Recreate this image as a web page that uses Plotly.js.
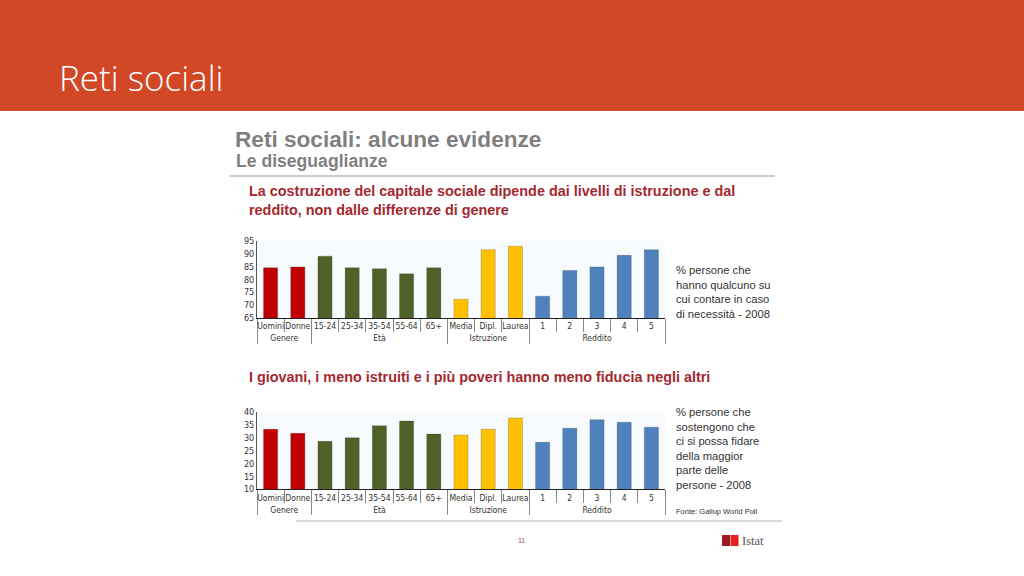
<!DOCTYPE html>
<html><head><meta charset="utf-8">
<script src="https://cdn.plot.ly/plotly-3.0.1.min.js"></script>
<style>html,body{margin:0;padding:0;background:#fff;}#c{width:1024px;height:576px;}</style>
</head><body><div id="c"></div>
<script>
const groups = ["Genere","Genere","Età","Età","Età","Età","Età","Istruzione","Istruzione","Istruzione","Reddito","Reddito","Reddito","Reddito","Reddito"];
const categories = ["Uomini","Donne","15-24","25-34","35-54","55-64","65+","Media","Dipl.","Laurea","1","2","3","4","5"];
const contareValues = [84.6,84.9,89.1,84.6,84.2,82.2,84.6,72.3,91.6,93.0,73.5,83.5,84.9,89.4,91.6];
const fiduciaValues = [33.4,31.8,28.7,30.1,34.8,36.6,31.5,31.2,33.4,37.8,28.3,33.8,37.1,36.1,34.2];
const groupColors = {"Genere":"#C00000","Età":"#4F6228","Istruzione":"#FFC000","Reddito":"#4F81BD"};
const barColors = groups.map(g => groupColors[g]);
const yTicks1 = [65,70,75,80,85,90,95];
const yTicks2 = [10,15,20,25,30,35,40];

const W = 1024, H = 576;
const px = x => x / W, py = y => 1 - y / H;

const traces = [
  {type:"bar", x:[groups, categories], y:contareValues, xaxis:"x", yaxis:"y",
   marker:{color:barColors, line:{color:"rgba(40,40,40,0.35)", width:0.6}}, width:0.52, hoverinfo:"y"},
  {type:"bar", x:[groups, categories], y:fiduciaValues, xaxis:"x2", yaxis:"y2",
   marker:{color:barColors, line:{color:"rgba(40,40,40,0.35)", width:0.6}}, width:0.52, hoverinfo:"y"}
];

const lblFont = "'Liberation Sans Narrow', 'DejaVu Sans Condensed', 'Liberation Sans', sans-serif";
const xBase = {type:"multicategory", showline:true, linecolor:"#222", linewidth:1,
  ticks:"outside", tickson:"boundaries", ticklen:13, tickcolor:"#888", tickwidth:1, tickangle:0,
  showdividers:true, dividercolor:"#888", dividerwidth:1,
  tickfont:{family:lblFont, size:8.5, color:"#333"},
  showgrid:false, zeroline:false, fixedrange:true};
const yBase = {showline:true, linecolor:"#555", linewidth:1, ticks:"", showgrid:false, zeroline:false,
  tickfont:{family:lblFont, size:9, color:"#333"}, fixedrange:true};

const redTxt = "#A5282F";
const ann = [];
function T(x,y,text,size,color,opts){ ann.push(Object.assign({xref:"paper",yref:"paper",x:px(x),y:py(y),text:text,showarrow:false,
  xanchor:"left",yanchor:"middle",align:"left",font:{family:"'Liberation Sans', Arial, sans-serif",size:size,color:color}},opts||{})); }

T(57,77,"Reti sociali",34,"#ffffff",{font:{family:"'Open Sans', 'Noto Sans', sans-serif",size:35,color:"#ffffff",weight:300}});
T(233,139,"<b>Reti sociali: alcune evidenze</b>",22.6,"#7F7F7F");
T(234,161,"<b>Le diseguaglianze</b>",17.6,"#7F7F7F");
T(247,200,"<b>La costruzione del capitale sociale dipende dai livelli di istruzione e dal<br>reddito, non dalle differenze di genere</b>",14.4,redTxt);
T(247,377,"<b>I giovani, i meno istruiti e i più poveri hanno meno fiducia negli altri</b>",14.4,redTxt);
T(674,292,"% persone che<br>hanno qualcuno su<br>cui contare in caso<br>di necessità - 2008",11.2,"#333333");
T(674,448,"% persone che<br>sostengono che<br>ci si possa fidare<br>della maggior<br>parte delle<br>persone - 2008",11.2,"#333333");
T(674,511,"Fonte: Gallup World Poll",7.5,"#333333");
T(516,540,"11",7,"#8a5a5a");
T(740,541,"Istat",12,"#555555",{font:{family:"'Liberation Serif', 'DejaVu Serif', serif",size:12.5,color:"#555"}});

const shapes = [
  {type:"rect",xref:"paper",yref:"paper",x0:0,x1:1,y0:py(111),y1:1,fillcolor:"#D24726",line:{width:0},layer:"below"},
  {type:"line",xref:"paper",yref:"paper",x0:px(230),x1:px(775),y0:py(176),y1:py(176),line:{color:"#999",width:1}},
  {type:"line",xref:"paper",yref:"paper",x0:px(296),x1:px(782),y0:py(521),y1:py(521),line:{color:"#cfcfcf",width:1.5}},
  {type:"rect",xref:"paper",yref:"paper",x0:px(722),x1:px(730),y0:py(546),y1:py(535),fillcolor:"#9E1B1F",line:{width:0}},
  {type:"rect",xref:"paper",yref:"paper",x0:px(730.5),x1:px(738.5),y0:py(546),y1:py(535),fillcolor:"#E3201B",line:{width:0}}
];

const layout = {
  width:W, height:H, margin:{l:0,r:0,t:0,b:0}, paper_bgcolor:"#ffffff", plot_bgcolor:"#F8FBFD",
  showlegend:false, bargap:0.48,
  xaxis:Object.assign({}, xBase, {domain:[px(257),px(665)], anchor:"y"}),
  yaxis:Object.assign({}, yBase, {domain:[py(318),py(241)], range:[65,95], tickvals:yTicks1, anchor:"x"}),
  xaxis2:Object.assign({}, xBase, {domain:[px(257),px(665)], anchor:"y2"}),
  yaxis2:Object.assign({}, yBase, {domain:[py(489.3),py(412.3)], range:[10,40], tickvals:yTicks2, anchor:"x2"}),
  annotations:ann, shapes:shapes
};
Plotly.newPlot("c", traces, layout, {displayModeBar:false, staticPlot:true});
</script></body></html>
